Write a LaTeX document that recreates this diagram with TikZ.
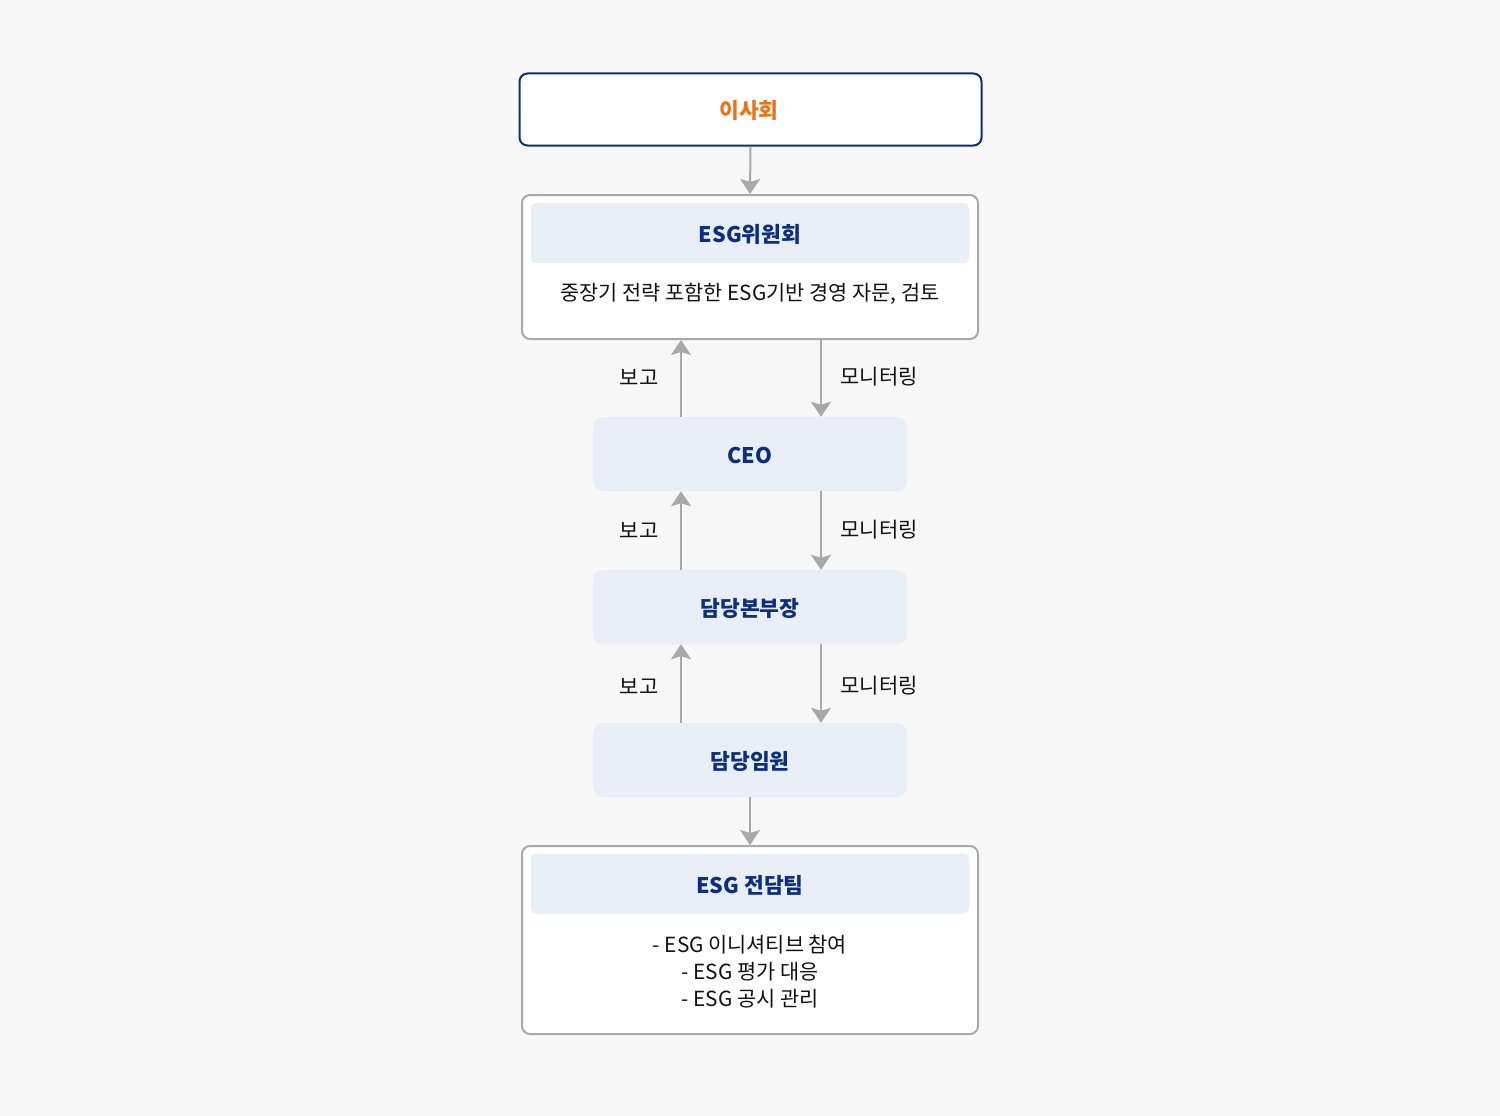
\documentclass[tikz,border=0pt]{standalone}
\usepackage{fontspec}
\setmainfont{Noto Sans CJK KR}
\usetikzlibrary{arrows.meta,positioning}
\definecolor{bgc}{HTML}{F7F7F7}
\definecolor{navy}{HTML}{0B2F7C}
\definecolor{orng}{HTML}{EE7318}
\definecolor{pale}{HTML}{E8EDF6}
\definecolor{grayline}{HTML}{A8A8A8}
\definecolor{txt}{HTML}{111111}
\begin{document}
\begin{tikzpicture}[x=1pt,y=-1pt,
  topbox/.style={draw=navy,line width=2pt,fill=white,rounded corners=8pt,minimum width=462pt,minimum height=72pt,inner sep=0pt},
  outerbox/.style={draw=grayline,line width=2pt,fill=white,rounded corners=8pt,inner sep=0pt},
  headbox/.style={fill=pale,rounded corners=5pt,minimum width=438pt,minimum height=60pt,inner sep=0pt,text=navy,font=\fontsize{21.5}{24}\selectfont\bfseries},
  midbox/.style={fill=pale,rounded corners=10pt,minimum width=314pt,minimum height=74pt,inner sep=0pt,text=navy,font=\fontsize{21.5}{24}\selectfont\bfseries},
  bodytxt/.style={text=txt,font=\fontsize{20.8}{27}\selectfont,align=center,inner sep=0pt},
  lbl/.style={text=txt,font=\fontsize{21}{24}\selectfont,inner sep=0pt},
  arr/.style={draw=grayline,line width=2pt,-{Stealth[width=20pt,length=15pt,inset=3pt]}}
]
\useasboundingbox[fill=bgc] (0,0) rectangle (1500,1116);

% board
\node[topbox,text=orng,font=\fontsize{21.5}{24}\selectfont\bfseries] (board) at (750.5,109.5) {};
\node[text=orng,font=\fontsize{21.5}{24}\selectfont\bfseries,inner sep=0pt] (boardt) at (749,110.5) {이사회};

% ESG committee
\node[outerbox,minimum width=456pt,minimum height=144pt] (comm) at (750,267) {};
\node[headbox] (commh) at (750,233) {};
\node[text=navy,font=\fontsize{21.5}{24}\selectfont\bfseries,inner sep=0pt] (commht) at (750,234) {ESG위원회};
\node[bodytxt] (commt) at (750,294) {중장기 전략 포함한 ESG기반 경영 자문, 검토};

% middle boxes
\node[midbox] (ceo) at (750,454) {};
\node[text=navy,font=\fontsize{21.5}{24}\selectfont\bfseries,inner sep=0pt] (ceot) at (750,455.5) {CEO};
\node[midbox] (head) at (750,607) {};
\node[text=navy,font=\fontsize{21.5}{24}\selectfont\bfseries,inner sep=0pt] (headt) at (750,608.5) {담당본부장};
\node[midbox] (exec) at (750,760) {};
\node[text=navy,font=\fontsize{21.5}{24}\selectfont\bfseries,inner sep=0pt] (exect) at (750,761.5) {담당임원};

% ESG team
\node[outerbox,minimum width=456pt,minimum height=188pt] (team) at (750,940) {};
\node[headbox] (teamh) at (750,883.5) {};
\node[text=navy,font=\fontsize{21.5}{24}\selectfont\bfseries,inner sep=0pt] (teamht) at (750,885) {ESG 전담팀};
\node[bodytxt] (teamt) at (750,972) {- ESG 이니셔티브 참여\\- ESG 평가 대응\\- ESG 공시 관리};

\coordinate (upx) at (681,0);
\coordinate (dnx) at (821,0);

\draw[arr] (board.south) -- (comm.north);
\draw[arr] (ceo.north -| upx) -- (comm.south -| upx);
\draw[arr] (comm.south -| dnx) -- (ceo.north -| dnx);
\draw[arr] (head.north -| upx) -- (ceo.south -| upx);
\draw[arr] (ceo.south -| dnx) -- (head.north -| dnx);
\draw[arr] (exec.north -| upx) -- (head.south -| upx);
\draw[arr] (head.south -| dnx) -- (exec.north -| dnx);
\draw[arr] (exec.south) -- (team.north);

\node[lbl] (r1) at (639,377) {보고};
\node[lbl] (m1) at (879,377) {모니터링};
\node[lbl] (r2) at (639,530) {보고};
\node[lbl] (m2) at (879,530) {모니터링};
\node[lbl] (r3) at (639,686) {보고};
\node[lbl] (m3) at (879,686) {모니터링};
\end{tikzpicture}
\end{document}
